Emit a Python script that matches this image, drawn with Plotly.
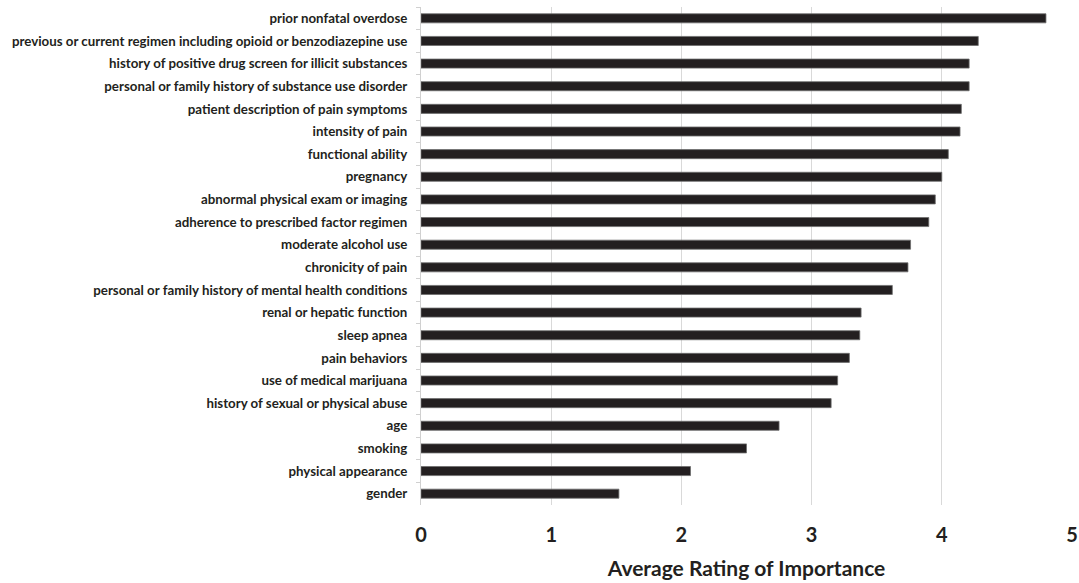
import plotly.graph_objects as go

categories = [
    "prior nonfatal overdose",
    "previous or current regimen including opioid or benzodiazepine use",
    "history of positive drug screen for illicit substances",
    "personal or family history of substance use disorder",
    "patient description of pain symptoms",
    "intensity of pain",
    "functional ability",
    "pregnancy",
    "abnormal physical exam or imaging",
    "adherence to prescribed factor regimen",
    "moderate alcohol use",
    "chronicity of pain",
    "personal or family history of mental health conditions",
    "renal or hepatic function",
    "sleep apnea",
    "pain behaviors",
    "use of medical marijuana",
    "history of sexual or physical abuse",
    "age",
    "smoking",
    "physical appearance",
    "gender",
]
ratings = [4.80, 4.28, 4.21, 4.21, 4.15, 4.14, 4.05, 4.00, 3.95, 3.90, 3.76,
           3.74, 3.62, 3.38, 3.37, 3.29, 3.20, 3.15, 2.75, 2.50, 2.07, 1.52]
x_ticks = [0, 1, 2, 3, 4, 5]

fig = go.Figure(go.Bar(
    x=ratings,
    y=categories,
    orientation="h",
    width=0.4,
    marker=dict(color="#231f20", line=dict(color="#6d6d6d", width=0.8)),
))

fig.update_layout(
    width=1079, height=583,
    margin=dict(l=421, r=7, t=7, b=78, autoexpand=False),
    paper_bgcolor="white", plot_bgcolor="white",
    font=dict(family="Lato", color="#231f20"),
    showlegend=False,
    bargap=0.6,
)
fig.update_yaxes(
    categoryorder="array", categoryarray=categories, autorange="reversed",
    showline=True, linecolor="#d0d0d0", linewidth=1,
    ticks="outside", tickson="boundaries", ticklen=4, tickcolor="#d0d0d0",
    tickfont=dict(size=13.3, family="Lato", weight="bold"),
    ticklabelstandoff=10,
    showgrid=False,
)
fig.update_xaxes(
    range=[0, 5], tickvals=x_ticks,
    showgrid=True, gridcolor="#d9d9d9", gridwidth=1,
    zeroline=False, showline=False,
    tickfont=dict(size=20, family="Lato", weight="bold"),
    ticklabelstandoff=16,
    title=dict(text="Average Rating of Importance",
               font=dict(size=21, family="Lato", weight="bold"), standoff=16),
)

fig.write_html("out.html", config={"displayModeBar": False},
               post_script="document.body.style.margin='0';document.body.style.padding='0';")
